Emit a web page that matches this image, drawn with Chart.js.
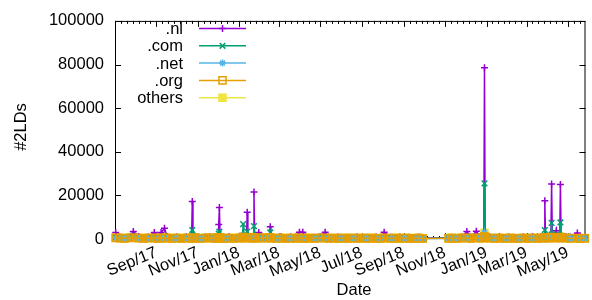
<!DOCTYPE html>
<html lang="en">
<head>
<meta charset="UTF-8" />
<title>2LDs per day</title>
<script src="https://cdn.jsdelivr.net/npm/chart.js"></script>
<style>
  html, body { margin: 0; padding: 0; background: #fff; }
  #wrap { width: 592px; height: 300px; }
</style>
</head>
<body>
<div id="wrap"><canvas id="tldChart"></canvas></div>
<script>
  // days counted from 2017-07-01
  const days = [
    2, 8, 15, 22, 28, 36, 43, 50, 59, 64,
    69, 74, 78, 85, 92, 99, 106, 114, 115, 116,
    120, 127, 134, 141, 148, 152, 153, 154, 155, 156,
    162, 169, 176, 183, 189, 190, 191, 195, 196, 197,
    204, 205, 206, 207, 213, 218, 225, 229, 230, 231,
    239, 246, 253, 260, 267, 273, 278, 281, 288, 295,
    302, 311, 316, 323, 330, 337, 344, 351, 358, 365,
    372, 379, 386, 393, 398, 407, 414, 421, 428, 435,
    442, 449, 455, 493, 498, 505, 512, 520, 526, 534,
    540, 545, 546, 547, 554, 561, 568, 575, 582, 589,
    596, 603, 610, 617, 624, 630, 634, 635, 636, 640,
    644, 645, 646, 651, 652, 653, 657, 658, 659, 666,
    673, 683, 687, 694
  ];

  const nl = [
    3000, 900, 700, 800, 3400, 1100, 600, 900, 3000, 800,
    3000, 4900, 1200, 700, 900, 600, 1000, 800, 17200, 900,
    1100, 700, 900, 1000, 800, 900, 1000, 6700, 14500, 900,
    800, 1000, 700, 900, 800, 2500, 900, 1000, 12300, 1100,
    900, 1200, 21500, 1000, 3000, 900, 1000, 1100, 5600, 900,
    800, 1000, 700, 900, 800, 3100, 3100, 900, 700, 800,
    900, 3100, 800, 700, 900, 600, 800, 700, 900, 700,
    800, 600, 900, 700, 3100, 800, 700, 900, 600, 800,
    700, 900, 500, 600, 800, 700, 900, 3400, 900, 3600,
    1000, 1200, 78500, 1500, 900, 800, 1000, 700, 900, 800,
    700, 900, 800, 1000, 900, 1100, 1200, 17500, 1500, 1200,
    1300, 25200, 3000, 1500, 3800, 1400, 1200, 25000, 1500, 1000,
    900, 2800, 900, 800
  ];

  const com = [
    800, 500, 400, 600, 1500, 700, 400, 500, 900, 500,
    700, 1200, 600, 400, 500, 300, 600, 500, 4100, 600,
    700, 400, 500, 600, 500, 600, 700, 2500, 3400, 600,
    500, 700, 400, 600, 700, 6800, 700, 900, 3400, 800,
    700, 900, 5900, 800, 1200, 600, 700, 800, 3000, 700,
    500, 600, 400, 500, 600, 900, 800, 500, 400, 500,
    600, 900, 500, 400, 600, 700, 900, 800, 600, 500,
    400, 500, 600, 400, 800, 500, 400, 600, 500, 400,
    300, 500, 300, 400, 500, 400, 600, 900, 500, 1000,
    700, 900, 25500, 1100, 600, 500, 700, 400, 600, 500,
    400, 600, 500, 700, 600, 800, 900, 4100, 1000, 900,
    1100, 7400, 2000, 1200, 2000, 1100, 1300, 7600, 1200, 800,
    600, 900, 600, 500
  ];

  const net = [
    300, 200, 250, 300, 500, 300, 200, 250, 350, 200,
    300, 400, 250, 200, 300, 200, 250, 200, 900, 250,
    300, 200, 250, 300, 200, 250, 300, 600, 800, 250,
    200, 300, 250, 200, 300, 1200, 300, 350, 700, 300,
    300, 350, 1100, 300, 400, 250, 300, 350, 700, 300,
    200, 250, 200, 300, 250, 400, 350, 200, 250, 300,
    250, 400, 200, 250, 300, 250, 300, 250, 200, 250,
    200, 250, 300, 200, 400, 250, 200, 300, 250, 200,
    200, 250, 150, 200, 250, 200, 300, 400, 250, 450,
    300, 350, 3000, 400, 250, 200, 300, 250, 300, 250,
    200, 300, 250, 300, 250, 350, 400, 900, 400, 350,
    400, 1300, 600, 450, 500, 400, 450, 1200, 450, 300,
    250, 350, 250, 200
  ];

  const org = [
    500, 400, 300, 500, 600, 400, 300, 400, 500, 300,
    400, 500, 400, 300, 400, 300, 400, 300, 600, 400,
    500, 300, 400, 500, 300, 400, 500, 700, 700, 400,
    300, 400, 300, 400, 500, 900, 500, 500, 700, 500,
    400, 500, 800, 400, 500, 400, 500, 500, 700, 400,
    300, 400, 300, 400, 300, 500, 400, 300, 400, 300,
    400, 500, 300, 400, 300, 400, 300, 400, 300, 400,
    300, 400, 300, 300, 500, 300, 400, 300, 400, 300,
    300, 400, 200, 300, 400, 300, 400, 500, 300, 500,
    400, 500, 1200, 500, 400, 300, 400, 300, 400, 300,
    300, 400, 300, 400, 300, 400, 500, 700, 500, 400,
    500, 900, 600, 500, 600, 500, 500, 900, 500, 400,
    300, 400, 300, 300
  ];

  const others = [
    600, 500, 400, 600, 700, 500, 400, 500, 600, 400,
    500, 600, 500, 400, 500, 400, 500, 400, 800, 500,
    600, 400, 500, 600, 400, 500, 600, 800, 900, 500,
    400, 500, 400, 500, 600, 1000, 600, 600, 800, 600,
    500, 600, 900, 500, 600, 500, 600, 600, 800, 500,
    400, 500, 400, 500, 400, 600, 500, 400, 500, 400,
    500, 600, 400, 500, 400, 500, 400, 500, 400, 500,
    400, 500, 400, 400, 600, 400, 500, 400, 500, 400,
    400, 500, 300, 400, 500, 400, 500, 600, 400, 600,
    500, 600, 2800, 600, 500, 400, 500, 400, 500, 400,
    400, 500, 400, 500, 400, 500, 600, 800, 600, 500,
    600, 1000, 700, 600, 700, 600, 600, 1000, 600, 500,
    400, 500, 400, 400
  ];

  const seriesNames = ['.nl', '.com', '.net', '.org', 'others'];
  const tickDates = ['2017-09-01', '2017-11-01', '2018-01-01', '2018-03-01', '2018-05-01', '2018-07-01',
                     '2018-09-01', '2018-11-01', '2019-01-01', '2019-03-01', '2019-05-01'];
  const tickLabels = ['Sep/17', 'Nov/17', 'Jan/18', 'Mar/18', 'May/18', 'Jul/18',
                      'Sep/18', 'Nov/18', 'Jan/19', 'Mar/19', 'May/19'];
  const yTicks = [0, 20000, 40000, 60000, 80000, 100000];

  const t0 = Date.UTC(2017, 6, 1);
  const tickDays = tickDates.map(s => Math.round((Date.parse(s) - t0) / 86400000));

  const FONT = "'Liberation Sans', Arial, sans-serif";
  Chart.defaults.font.family = FONT;
  Chart.defaults.font.size = 16.5;
  Chart.defaults.color = '#000';

  // order: higher is drawn first; the yellow band sits under the open orange squares
  const styles = [
    { color: '#9400D3', point: 'cross', r: 3.5, order: 4 },
    { color: '#009E73', point: 'crossRot', r: 4, order: 3 },
    { color: '#56B4E9', point: 'star', r: 3.5, order: 2 },
    { color: '#E69F00', point: 'rect', r: 5, open: true, order: 1 },
    { color: '#F0E442', point: 'rect', r: 5, order: 5 }
  ];
  const allValues = [nl, com, net, org, others];

  const datasets = allValues.map((vals, i) => ({
    label: seriesNames[i],
    data: days.map((d, j) => ({ x: d, y: vals[j] })),
    borderColor: styles[i].color,
    backgroundColor: styles[i].color,
    pointBackgroundColor: styles[i].open ? 'rgba(0,0,0,0)' : styles[i].color,
    pointBorderColor: styles[i].color,
    pointStyle: styles[i].point,
    pointRadius: styles[i].r,
    pointBorderWidth: 1.5,
    borderWidth: 1.5,
    tension: 0,
    fill: false,
    clip: false,
    order: styles[i].order
  }));

  // small marker drawer for the key
  function marker(ctx, s, x, y) {
    const r = s.r;
    ctx.beginPath();
    if (s.point === 'rect') {
      const h = r * Math.SQRT1_2;
      ctx.rect(x - h, y - h, 2 * h, 2 * h);
      if (!s.open) ctx.fill();
    } else {
      if (s.point !== 'crossRot') {
        ctx.moveTo(x - r, y); ctx.lineTo(x + r, y);
        ctx.moveTo(x, y - r); ctx.lineTo(x, y + r);
      }
      if (s.point !== 'cross') {
        const d = r * Math.SQRT1_2;
        ctx.moveTo(x - d, y - d); ctx.lineTo(x + d, y + d);
        ctx.moveTo(x - d, y + d); ctx.lineTo(x + d, y - d);
      }
    }
    ctx.stroke();
  }

  const boxPlugin = {
    id: 'box',
    beforeDatasetsDraw(chart) {
      const { ctx, chartArea: a, scales: { x, y } } = chart;
      ctx.save();
      ctx.strokeStyle = '#000';
      ctx.lineWidth = 1;
      ctx.strokeRect(a.left + 0.5, a.top + 0.5, a.width - 1, a.height - 1);
      ctx.beginPath();
      for (const v of yTicks) {
        const py = Math.round(y.getPixelForValue(v)) + 0.5;
        ctx.moveTo(a.left, py); ctx.lineTo(a.left + 6, py);
        ctx.moveTo(a.right, py); ctx.lineTo(a.right - 6, py);
      }
      const xTick = (v, len) => {
        if (v < x.min || v > x.max) return;
        const px = Math.round(x.getPixelForValue(v)) + 0.5;
        ctx.moveTo(px, a.bottom); ctx.lineTo(px, a.bottom - len);
        ctx.moveTo(px, a.top); ctx.lineTo(px, a.top + len);
      };
      tickDays.forEach((d, i) => {
        xTick(d, 6);
        const next = tickDays[i + 1];
        if (next) for (let k = 1; k < 7; k++) xTick(d + k * (next - d) / 7, 3);
        if (i === 0) for (let k = 1; k < 12; k++) xTick(d - k * (tickDays[1] - d) / 7, 3);
        if (!next) for (let k = 1; k < 12; k++) xTick(d + k * (d - tickDays[i - 1]) / 7, 3);
      });
      ctx.stroke();
      ctx.restore();
    },
    afterDraw(chart) {
      const { ctx } = chart;
      ctx.save();
      ctx.font = '16.5px ' + FONT;
      // key
      seriesNames.forEach((name, i) => {
        const ry = 28.5 + i * 17.3;
        ctx.textAlign = 'right';
        ctx.textBaseline = 'middle';
        ctx.fillStyle = '#000';
        ctx.fillText(name, 183, ry + 1);
        const s = styles[i];
        ctx.strokeStyle = s.color;
        ctx.fillStyle = s.color;
        ctx.lineWidth = 1.5;
        ctx.beginPath();
        ctx.moveTo(199, ry); ctx.lineTo(246, ry);
        ctx.stroke();
        marker(ctx, s, 222.5, ry);
      });
      // axis titles
      ctx.fillStyle = '#000';
      ctx.textAlign = 'center';
      ctx.textBaseline = 'middle';
      ctx.fillText('Date', 354, 290);
      ctx.translate(21, 127);
      ctx.rotate(-Math.PI / 2);
      ctx.fillText('#2LDs', 0, 0);
      ctx.restore();
    }
  };

  new Chart(document.getElementById('tldChart'), {
    type: 'line',
    data: { datasets },
    options: {
      responsive: true,
      maintainAspectRatio: false,
      animation: false,
      events: [],
      layout: { padding: { top: 15, right: 1, left: 0, bottom: 0 } },
      plugins: { legend: { display: false }, tooltip: { enabled: false } },
      scales: {
        x: {
          type: 'linear',
          min: 1,
          max: 695,
          grid: { display: false, drawTicks: false },
          border: { display: false },
          afterBuildTicks: scale => { scale.ticks = tickDays.map(v => ({ value: v })); },
          afterFit: scale => { scale.height = 61; },
          ticks: {
            autoSkip: false,
            maxRotation: 22,
            minRotation: 22,
            padding: 4,
            callback: v => tickLabels[tickDays.indexOf(v)] ?? ''
          }
        },
        y: {
          min: 0,
          max: 100000,
          grid: { display: false, drawTicks: false },
          border: { display: false },
          afterBuildTicks: scale => { scale.ticks = yTicks.map(v => ({ value: v })); },
          afterFit: scale => { scale.width = 115; },
          ticks: { padding: 11, callback: v => String(v) }
        }
      }
    },
    plugins: [boxPlugin]
  });
</script>
</body>
</html>
